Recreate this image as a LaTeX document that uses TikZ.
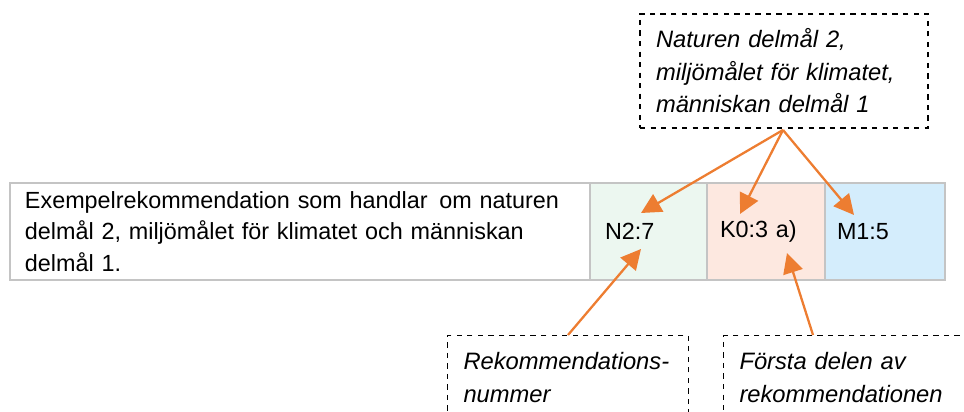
\documentclass[tikz,border=0pt]{standalone}
\usepackage{fontspec}
\setmainfont{Liberation Sans}
\usetikzlibrary{arrows.meta}
\definecolor{cellgray}{HTML}{C4C4C4}
\definecolor{natgreen}{HTML}{ECF7F0}
\definecolor{klimrose}{HTML}{FDE8E0}
\definecolor{mansblue}{HTML}{D4EDFC}
\definecolor{pilorange}{HTML}{ED7D31}
\tikzset{
  cell/.style={draw=cellgray, line width=1.2pt, minimum height=1.94cm, inner xsep=0.3cm, align=left, font=\fontsize{13.3}{18}\selectfont},
  notebox/.style={draw, dashed, line width=0.6pt, align=left, inner xsep=0.32cm, inner ysep=0.2cm, font=\fontsize{13.5}{18.5}\selectfont\itshape},
  pil/.style={draw=pilorange, line width=1.3pt, -{Triangle[length=0.4cm, width=0.4cm]}}
}
\begin{document}
\begin{tikzpicture}
\useasboundingbox (0,0) rectangle (19.28,8.24);
% raden med rekommendationen
\node[cell, minimum width=11.6cm, text width=11.0cm, fill=white] (exempel) at (6.0,3.61)
  {Exempelrekommendation som handlar\, om naturen\\ delmål 2, miljömålet för klimatet och människan\\ delmål 1.};
\node[cell, minimum width=2.34cm, text width=1.74cm, fill=natgreen] (n2) at (12.97,3.61) {N2:7};
\node[cell, minimum width=2.36cm, text width=1.84cm, inner xsep=0.26cm, fill=klimrose] (k0) at (15.32,3.61) {K0:3 a)};
\node[cell, minimum width=2.4cm, text width=1.92cm, inner xsep=0.24cm, fill=mansblue] (m1) at (17.7,3.61) {M1:5};
% förklaringarna
\node[notebox, text width=5.12cm, minimum height=2.28cm] (mal) at (15.68,6.82)
  {Naturen delmål 2,\\ miljömålet för klimatet,\\ människan delmål 1};
\node[notebox, anchor=north west, text width=4.18cm, inner ysep=0.34cm, text depth=0.8cm] (nummer) at (8.94,1.54)
  {Rekommendations-\\ nummer};
\node[notebox, anchor=north west, text width=4.5cm, inner ysep=0.34cm, text depth=0.8cm] (forsta) at (14.46,1.54)
  {Första delen av\\ rekommendationen};
% pilarnas mål
\coordinate (malfot) at (15.66,5.64);
\coordinate (n2upp) at (12.82,3.98);
\coordinate (k0upp) at (14.8,3.96);
\coordinate (m1upp) at (17.08,3.94);
\coordinate (n2ned) at (12.82,3.26);
\coordinate (k0ned) at (15.74,3.18);
\coordinate (nummerfot) at (11.36,1.54);
\coordinate (forstafot) at (16.26,1.54);
\draw[pil] (malfot) -- (n2upp);
\draw[pil] (malfot) -- (k0upp);
\draw[pil] (malfot) -- (m1upp);
\draw[pil] (nummerfot) -- (n2ned);
\draw[pil] (forstafot) -- (k0ned);
\end{tikzpicture}
\end{document}
